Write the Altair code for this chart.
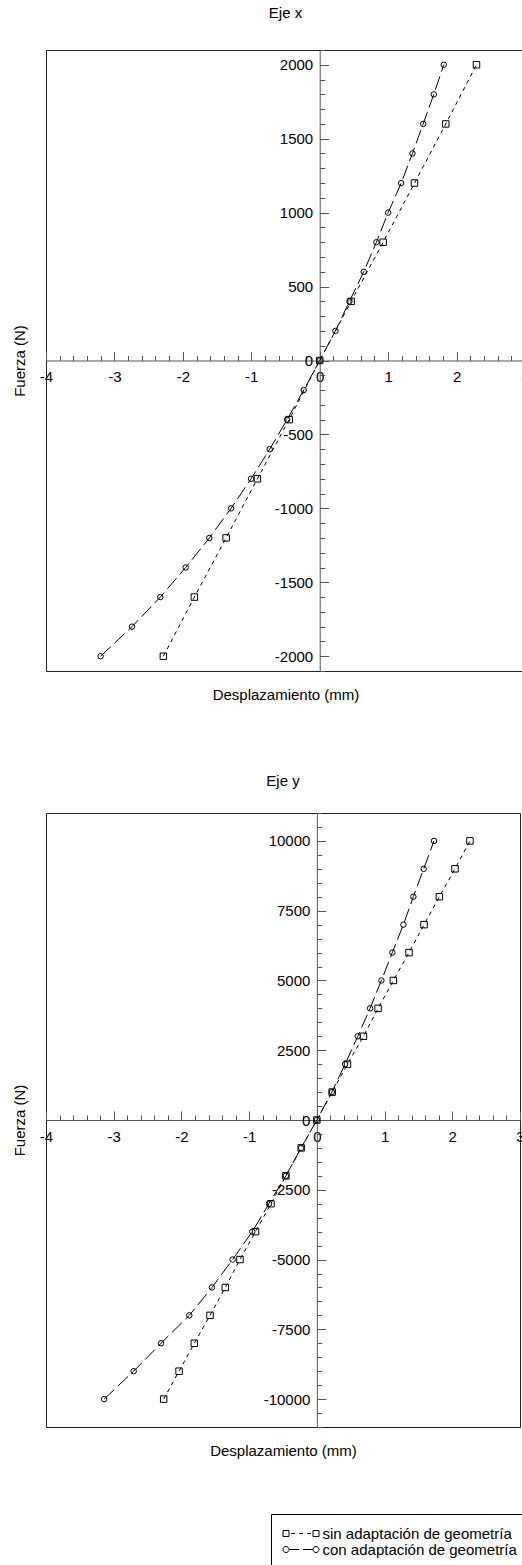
import altair as alt
import pandas as pd

SIN = "sin adaptación de geometría"
CON = "con adaptación de geometría"
SERIES = [SIN, CON]

# --- Eje x: fuerza (N) frente a desplazamiento (mm) ---
fuerza_x_con = [-2000, -1800, -1600, -1400, -1200, -1000, -800, -600, -400, -200, 0,
                200, 400, 600, 800, 1000, 1200, 1400, 1600, 1800, 2000]
desp_x_con = [-3.202, -2.743, -2.329, -1.959, -1.613, -1.295, -1.003, -0.731, -0.477, -0.234, 0.0,
              0.230, 0.434, 0.643, 0.829, 1.000, 1.190, 1.355, 1.512, 1.667, 1.813]
fuerza_x_sin = [-2000, -1600, -1200, -800, -400, 0, 400, 800, 1200, 1600, 2000]
desp_x_sin = [-2.285, -1.832, -1.368, -0.911, -0.447, 0.0, 0.459, 0.927, 1.385, 1.842, 2.291]

# --- Eje y ---
fuerza_y = [-10000, -9000, -8000, -7000, -6000, -5000, -4000, -3000, -2000, -1000, 0,
            1000, 2000, 3000, 4000, 5000, 6000, 7000, 8000, 9000, 10000]
desp_y_con = [-3.142, -2.705, -2.301, -1.884, -1.549, -1.245, -0.954, -0.708, -0.457, -0.232, 0.0,
              0.221, 0.417, 0.604, 0.786, 0.953, 1.115, 1.278, 1.425, 1.578, 1.730]
desp_y_sin = [-2.262, -2.035, -1.810, -1.578, -1.352, -1.136, -0.906, -0.678, -0.457, -0.232, 0.0,
              0.226, 0.452, 0.688, 0.904, 1.130, 1.361, 1.583, 1.809, 2.040, 2.261]

# Marcas de los ejes
x_ticks = [-4, -3, -2, -1, 0, 1, 2, 3]
x_minor = [round(-4 + 0.2 * i, 1) for i in range(36)]
yx_ticks = [-2000, -1500, -1000, -500, 0, 500, 1000, 1500, 2000]
yx_minor = list(range(-2100, 2101, 100))
yy_ticks = [-10000, -7500, -5000, -2500, 0, 2500, 5000, 7500, 10000]
yy_minor = list(range(-11000, 11001, 500))

# Símbolos de la leyenda (unidad = 5 px): línea discontinua con marcador en cada extremo
PATH_SIN = ("M-3.6,-0.6H-2.4V0.6H-3.6Z M2.4,-0.6H3.6V0.6H2.4Z "
            "M-2,0H-1.2 M-0.4,0H0.4 M1.2,0H2")
PATH_CON = ("M-2.4,0A0.6,0.6,0,1,1,-3.6,0A0.6,0.6,0,1,1,-2.4,0Z "
            "M3.6,0A0.6,0.6,0,1,1,2.4,0A0.6,0.6,0,1,1,3.6,0Z "
            "M-2.4,0H-0.4 M0.4,0H2.4")

FONT = "Liberation Sans"
AXIS_COLOR = "#555555"
PAGE_W, PAGE_H = 522, 1565
# origen del primer panel (esquina superior izquierda del área de datos)
PAD_LEFT, PAD_TOP = 46, 50


def tabla(f_sin, d_sin, f_con, d_con):
    return pd.DataFrame({
        "desp": d_sin + d_con,
        "fuerza": f_sin + f_con,
        "serie": [SIN] * len(d_sin) + [CON] * len(d_con),
    })


def panel(df, titulo, ancho, alto, ydom, yticks, yminor, title_offset, leyenda=False):
    xs = alt.Scale(domain=[-4, 3], nice=False, zero=False)
    ys = alt.Scale(domain=ydom, nice=False, zero=False)
    off_x = -alto / 2.0           # eje x en fuerza = 0
    off_y = -ancho * 3.0 / 7.0    # eje y en desplazamiento = 0

    eje_x = alt.Axis(orient="top", offset=off_x, values=x_ticks, tickSize=9,
                     labelPadding=-30, labelBaseline="alphabetic", labelFlush=False,
                     labelOverlap=False, labelExpr="toString(datum.value)",
                     title=None, grid=False)
    eje_y = alt.Axis(orient="right", offset=off_y, values=yticks, tickSize=9,
                     labelPadding=-16, labelAlign="right", labelBaseline="middle",
                     labelFlush=False, labelOverlap=False,
                     labelExpr="toString(datum.value)", title=None, grid=False)
    eje_x_men = alt.Axis(orient="top", offset=off_x, values=x_minor, tickSize=5,
                         labels=False, domain=False, title=None, grid=False)
    eje_y_men = alt.Axis(orient="right", offset=off_y, values=yminor, tickSize=5,
                         labels=False, domain=False, title=None, grid=False)
    eje_x_tit = alt.Axis(orient="bottom", labels=False, ticks=False, domain=False,
                         title="Desplazamiento (mm)", titlePadding=16, grid=False)
    eje_y_tit = alt.Axis(orient="left", labels=False, ticks=False, domain=False,
                         title="Fuerza (N)", titlePadding=19, grid=False)

    base = alt.Chart(df)

    lineas = base.mark_line(color="black", strokeWidth=1).encode(
        x=alt.X("desp:Q", scale=xs, axis=eje_x),
        y=alt.Y("fuerza:Q", scale=ys, axis=eje_y),
        strokeDash=alt.StrokeDash("serie:N", legend=None,
                                  scale=alt.Scale(domain=SERIES, range=[[4, 4], [14, 5]])),
        order=alt.Order("fuerza:Q"),
    )
    cuadrados = base.transform_filter(alt.datum.serie == SIN).mark_point(
        shape="square", size=42, filled=False, color="black", strokeWidth=1, opacity=1
    ).encode(
        x=alt.X("desp:Q", scale=xs, axis=eje_x_men),
        y=alt.Y("fuerza:Q", scale=ys, axis=eje_y_men),
    )
    circulos = base.transform_filter(alt.datum.serie == CON).mark_point(
        shape="circle", size=30, filled=False, color="black", strokeWidth=1, opacity=1
    ).encode(
        x=alt.X("desp:Q", scale=xs, axis=eje_x_tit),
        y=alt.Y("fuerza:Q", scale=ys, axis=eje_y_tit),
    )
    capas = [lineas, cuadrados, circulos]

    if leyenda:
        capas.append(base.mark_point(opacity=0, filled=False, color="black").encode(
            x=alt.X("desp:Q", scale=xs, axis=None),
            y=alt.Y("fuerza:Q", scale=ys, axis=None),
            shape=alt.Shape("serie:N",
                            scale=alt.Scale(domain=SERIES, range=[PATH_SIN, PATH_CON]),
                            legend=alt.Legend(
                                orient="none", legendX=225, legendY=701, title=None,
                                symbolSize=100, symbolOffset=10.5,
                                symbolStrokeColor="black", symbolStrokeWidth=1,
                                symbolFillColor="transparent", symbolOpacity=1,
                                labelFont=FONT, labelFontSize=15, labelColor="black",
                                labelOffset=14, labelLimit=400, padding=12,
                                rowPadding=-2, strokeColor="black", fillColor="white")),
        ))

    return alt.layer(*capas).resolve_axis(
        x="independent", y="independent"
    ).resolve_scale(shape="independent").properties(
        width=ancho, height=alto, title=alt.Title(titulo, offset=title_offset)
    )


panel_x = panel(tabla(fuerza_x_sin, desp_x_sin, fuerza_x_con, desp_x_con),
                "Eje x", 479, 621, [-2100, 2100], yx_ticks, yx_minor, 29)
panel_y = panel(tabla(fuerza_y, desp_y_sin, fuerza_y, desp_y_con),
                "Eje y", 474, 614, [-11000, 11000], yy_ticks, yy_minor, 24, leyenda=True)

# Lienzo de tamaño fijo: lo que sobresale por la derecha queda recortado
chart = alt.vconcat(panel_x, panel_y, spacing=70).properties(
    autosize=alt.AutoSizeParams(type="none"),
    padding={"left": PAD_LEFT, "top": PAD_TOP,
             "right": PAGE_W - PAD_LEFT, "bottom": PAGE_H - PAD_TOP},
).configure(font=FONT).configure_view(
    stroke="#222222", strokeWidth=1
).configure_axis(
    grid=False, domainColor=AXIS_COLOR, tickColor=AXIS_COLOR, domainWidth=1, tickWidth=1,
    labelColor="black", labelFont=FONT, labelFontSize=15,
    titleColor="black", titleFont=FONT, titleFontSize=15, titleFontWeight="normal",
).configure_title(
    font=FONT, fontSize=15, fontWeight="normal", color="black", anchor="middle"
)

chart.save("out.html", embed_options={"renderer": "svg", "actions": False})
